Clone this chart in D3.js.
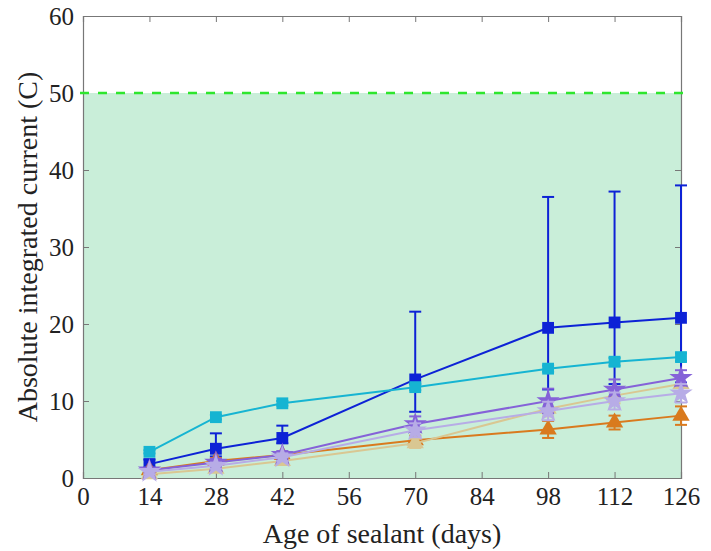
<!DOCTYPE html>
<html><head><meta charset="utf-8">
<script src="https://cdn.jsdelivr.net/npm/d3@7"></script>
<style>body{margin:0;background:#fff}svg{display:block}</style>
</head><body>
<script>
const days = [14, 28, 42, 70, 98, 112, 126];
const xTicks = [0, 14, 28, 42, 56, 70, 84, 98, 112, 126];
const yTicks = [0, 10, 20, 30, 40, 50, 60];
const threshold = 50;

const blueVals = [1.8, 3.8, 5.2, 12.8, 19.5, 20.2, 20.8];
const blueErrLo = [0.4, 1.0, 0.7, 4.2, 8.0, 8.0, 8.4];
const blueErrHi = [0.6, 2.0, 1.6, 8.8, 17.0, 17.0, 17.2];
const cyanVals = [3.4, 7.9, 9.7, 11.8, 14.2, 15.1, 15.7];
const cyanErr  = [0.2, 0.3, 0.3, 0.4, 0.4, 0.5, 0.5];
const orangeVals = [1.0, 2.2, 3.0, 4.9, 6.3, 7.2, 8.1];
const orangeErr  = [0.3, 0.4, 0.4, 0.6, 1.1, 0.9, 1.2];
const tanVals = [0.5, 1.2, 2.2, 4.5, 9.0, 10.7, 12.2];
const tanErr  = [0.2, 0.3, 0.4, 0.6, 1.0, 1.0, 1.0];
const purpleVals = [1.0, 2.0, 3.0, 7.0, 10.0, 11.5, 13.0];
const purpleErr  = [0.3, 0.5, 0.5, 1.0, 1.6, 1.3, 1.0];
const lavVals = [0.8, 1.6, 2.7, 6.2, 8.7, 10.0, 11.0];
const lavErr  = [0.3, 0.4, 0.5, 0.9, 1.2, 1.1, 1.2];

const series = [
  {vals: blueVals, lo: blueErrLo, hi: blueErrHi, color: "#0d22d6", marker: "square"},
  {vals: cyanVals, lo: cyanErr, hi: cyanErr, color: "#16b4d2", marker: "square"},
  {vals: orangeVals, lo: orangeErr, hi: orangeErr, color: "#d97a1e", marker: "triangle"},
  {vals: tanVals, lo: tanErr, hi: tanErr, color: "#d9c792", marker: "triangle"},
  {vals: purpleVals, lo: purpleErr, hi: purpleErr, color: "#8562d8", marker: "star"},
  {vals: lavVals, lo: lavErr, hi: lavErr, color: "#b7ace6", marker: "star"}
];

const W = 711, H = 551;
const m = {left: 83, right: 30, top: 16, bottom: 73};
const x = d3.scaleLinear().domain([0, 126]).range([m.left, W - m.right]);
const y = d3.scaleLinear().domain([0, 60]).range([H - m.bottom, m.top]);

const svg = d3.select("body").append("svg").attr("width", W).attr("height", H);
const font = "'Liberation Serif','Times New Roman',serif";

svg.append("rect").attr("x", x(0)).attr("y", y(threshold))
  .attr("width", x(126) - x(0)).attr("height", y(0) - y(threshold))
  .attr("fill", "#c9eed9");

const axB = d3.axisBottom(x).tickValues(xTicks).tickSize(-6).tickPadding(9);
const axL = d3.axisLeft(y).tickValues(yTicks).tickSize(-6).tickPadding(9);
const axT = d3.axisTop(x).tickValues(xTicks).tickSize(-6).tickFormat("");
const axR = d3.axisRight(y).tickValues(yTicks).tickSize(-6).tickFormat("");

function style(g){
  g.select(".domain").attr("stroke", "#777").attr("stroke-width", 1.2);
  g.selectAll(".tick line").attr("stroke", "#777").attr("stroke-width", 1);
  g.selectAll("text").attr("font-family", font).attr("font-size", 25).attr("fill", "#222");
}
svg.append("g").attr("transform", `translate(0,${y(0)})`).call(axB).call(style);
svg.append("g").attr("transform", `translate(${x(0)},0)`).call(axL).call(style)
  .selectAll("text").attr("dy", "0.34em");
svg.append("g").attr("transform", `translate(0,${y(60)})`).call(axT).call(style);
svg.append("g").attr("transform", `translate(${x(126)},0)`).call(axR).call(style);

svg.append("line").attr("x1", x(0) - 3).attr("x2", x(126) + 8)
  .attr("y1", y(threshold)).attr("y2", y(threshold))
  .attr("stroke", "#2ee62e").attr("stroke-width", 2.4).attr("stroke-dasharray", "9,9");

const line = d3.line().x((d, i) => x(days[i])).y(d => y(d));
const sym = {
  square: d3.symbol().type(d3.symbolSquare).size(140),
  triangle: d3.symbol().type(d3.symbolTriangle).size(130),
  star: d3.symbol().type(d3.symbolStar).size(170)
};

series.forEach(s => {
  const g = svg.append("g");
  s.vals.forEach((v, i) => {
    const cx = x(days[i]), lo = y(v - s.lo[i]), hi = y(v + s.hi[i]);
    g.append("line").attr("x1", cx).attr("x2", cx).attr("y1", lo).attr("y2", hi)
      .attr("stroke", s.color).attr("stroke-width", 2);
    [lo, hi].forEach(yy => g.append("line").attr("x1", cx - 6).attr("x2", cx + 6)
      .attr("y1", yy).attr("y2", yy).attr("stroke", s.color).attr("stroke-width", 2));
  });
  g.append("path").datum(s.vals).attr("d", line).attr("fill", "none")
    .attr("stroke", s.color).attr("stroke-width", 2);
  g.selectAll("path.mk").data(s.vals).join("path").attr("class", "mk")
    .attr("transform", (d, i) => `translate(${x(days[i])},${y(d)})`)
    .attr("d", sym[s.marker]).attr("fill", s.color);
});

svg.append("text").attr("x", (x(0) + x(126)) / 2).attr("y", 543)
  .attr("text-anchor", "middle").attr("font-family", font).attr("font-size", 28)
  .attr("fill", "#222").text("Age of sealant (days)");
svg.append("text").attr("transform", `translate(37,${(y(0) + y(60)) / 2}) rotate(-90)`)
  .attr("text-anchor", "middle").attr("font-family", font).attr("font-size", 28)
  .attr("fill", "#222").text("Absolute integrated current (C)");
</script>
</body></html>
